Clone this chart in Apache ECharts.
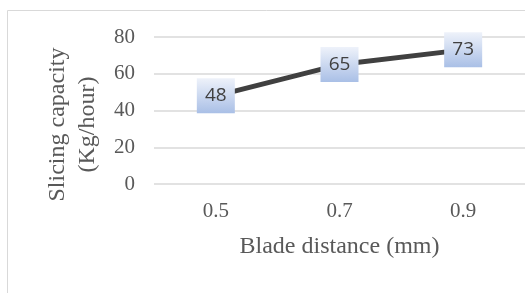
<!DOCTYPE html>
<html>
<head>
<meta charset="utf-8">
<script src="https://cdn.jsdelivr.net/npm/echarts@6/dist/echarts.min.js"></script>
<style>
  html, body { margin: 0; padding: 0; background: #fff; }
  #chart { width: 525px; height: 293px; }
</style>
</head>
<body>
<div id="chart"></div>
<script>
const categories = ['0.5', '0.7', '0.9'];
const capacity = [48, 65, 73];
const yTicks = { min: 0, max: 80, interval: 20 };

const chart = echarts.init(document.getElementById('chart'));

const serif = '"Liberation Serif", "Times New Roman", serif';

chart.setOption({
  animation: false,
  graphic: [
    {
      type: 'rect',
      shape: { x: 7.5, y: 10.5, width: 600, height: 400 },
      style: { fill: 'none', stroke: '#d9d9d9', lineWidth: 1 },
      silent: true,
    },
  ],
  grid: { left: 154, top: 37, width: 378, height: 147 },
  xAxis: {
    type: 'category',
    data: categories,
    axisLine: { show: false },
    axisTick: { show: false },
    axisLabel: { color: '#595959', fontFamily: serif, fontSize: 21, margin: 17 },
    name: 'Blade distance (mm)',
    nameLocation: 'middle',
    nameGap: 51,
    nameTextStyle: { color: '#595959', fontFamily: serif, fontSize: 24 },
  },
  yAxis: {
    type: 'value',
    min: yTicks.min,
    max: yTicks.max,
    interval: yTicks.interval,
    axisLine: { show: false },
    axisTick: { show: false },
    splitLine: { lineStyle: { color: '#d9d9d9', width: 1.5 } },
    axisLabel: { color: '#595959', fontFamily: serif, fontSize: 21, margin: 19 },
    name: 'Slicing capacity\n(Kg/hour)',
    nameLocation: 'middle',
    nameRotate: 90,
    nameGap: 45,
    nameTextStyle: {
      color: '#595959', fontFamily: serif, fontSize: 24, lineHeight: 30,
      padding: [0, 28, 0, 0],
    },
  },
  series: [
    {
      type: 'line',
      data: capacity,
      symbol: 'circle',
      symbolSize: 0,
      lineStyle: { color: '#404040', width: 5 },
      label: {
        show: true,
        position: 'inside',
        color: '#404040',
        fontFamily: '"Open Sans", "Liberation Sans", sans-serif',
        fontSize: 19,
        width: 38,
        height: 35,
        lineHeight: 35,
        align: 'center',
        verticalAlign: 'middle',
        backgroundColor: new echarts.graphic.LinearGradient(0, 0, 0, 1, [
          { offset: 0, color: '#eef2fa' },
          { offset: 1, color: '#a9bfe6' },
        ]),
      },
    },
  ],
});
</script>
</body>
</html>
